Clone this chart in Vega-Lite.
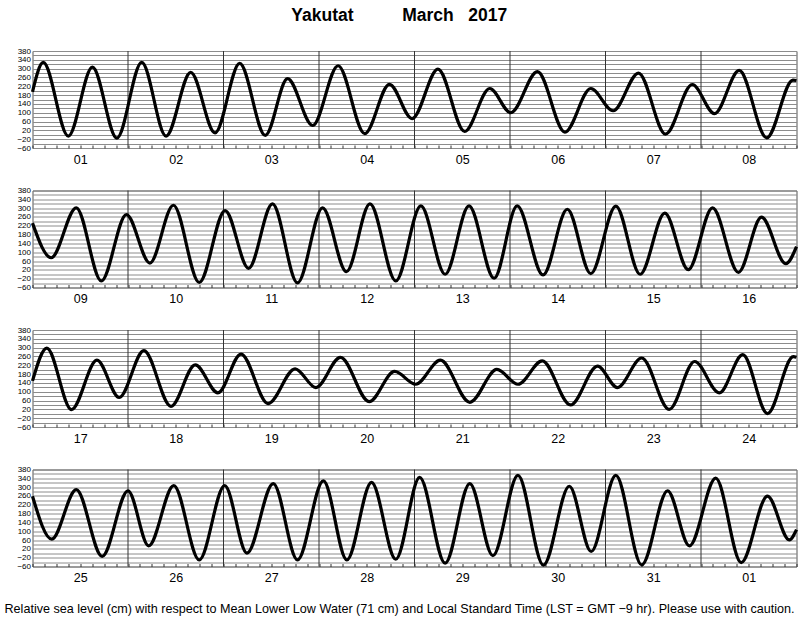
{
  "$schema": "https://vega.github.io/schema/vega-lite/v6.json",
  "background": "white",
  "padding": {"left": 2.5, "top": 7, "right": 2, "bottom": 2},
  "title": {"text": "Yakutat\u00a0\u00a0\u00a0\u00a0\u00a0\u00a0\u00a0\u00a0\u00a0\u00a0March\u00a0\u00a0\u00a02017", "font": "Liberation Sans", "fontSize": 17.5, "fontWeight": "bold", "color": "#000", "anchor": "middle", "offset": 22, "dx": -4},
  "spacing": 19.5,
  "config": {
    "view": {"stroke": "#555", "strokeWidth": 1},
    "font": "Liberation Sans",
    "axisX": {"tickSize": -3, "tickColor": "#333", "domain": false, "grid": false, "labelFontSize": 12.5, "labelPadding": 8, "labelColor": "#000", "labelFont": "Liberation Sans", "labelAngle": 0, "labelOverlap": false, "labelFlush": false, "labelBound": false},
    "axisY": {"grid": true, "gridColor": "#8c8c8c", "gridWidth": 1, "ticks": false, "domain": false, "labelFontSize": 8, "labelPadding": 2, "labelColor": "#000", "labelOverlap": false, "labelFont": "Liberation Sans", "title": null}
  },
  "datasets": {
    "days": [{"h": 24}, {"h": 48}, {"h": 72}, {"h": 96}, {"h": 120}, {"h": 144}, {"h": 168}],
    "tide": [
      {"p": 1, "h": 0, "v": 195}, {"p": 1, "h": 2.7, "v": 328}, {"p": 1, "h": 9.0, "v": -6}, {"p": 1, "h": 15.05, "v": 307}, {"p": 1, "h": 21.2, "v": -15}, {"p": 1, "h": 27.45, "v": 328}, {"p": 1, "h": 33.56, "v": -6}, {"p": 1, "h": 39.76, "v": 283}, {"p": 1, "h": 45.87, "v": 9}, {"p": 1, "h": 52.07, "v": 324}, {"p": 1, "h": 58.5, "v": -3}, {"p": 1, "h": 64.1, "v": 255}, {"p": 1, "h": 70.4, "v": 42}, {"p": 1, "h": 76.8, "v": 313}, {"p": 1, "h": 83.5, "v": 5}, {"p": 1, "h": 89.7, "v": 229}, {"p": 1, "h": 95.4, "v": 73}, {"p": 1, "h": 101.9, "v": 298}, {"p": 1, "h": 108.6, "v": 15}, {"p": 1, "h": 114.9, "v": 210}, {"p": 1, "h": 120.2, "v": 100}, {"p": 1, "h": 126.9, "v": 286}, {"p": 1, "h": 133.8, "v": 12}, {"p": 1, "h": 140.3, "v": 210}, {"p": 1, "h": 145.9, "v": 109}, {"p": 1, "h": 152.3, "v": 280}, {"p": 1, "h": 159.1, "v": 3}, {"p": 1, "h": 165.8, "v": 228}, {"p": 1, "h": 171.4, "v": 96}, {"p": 1, "h": 177.6, "v": 292}, {"p": 1, "h": 184.5, "v": -14}, {"p": 1, "h": 191.1, "v": 248}, {"p": 1, "h": 192, "v": 246},
      {"p": 2, "h": 0, "v": 232}, {"p": 2, "h": 4.7, "v": 75}, {"p": 2, "h": 11.0, "v": 301}, {"p": 2, "h": 17.3, "v": -30}, {"p": 2, "h": 23.6, "v": 271}, {"p": 2, "h": 29.5, "v": 51}, {"p": 2, "h": 35.4, "v": 313}, {"p": 2, "h": 41.9, "v": -37}, {"p": 2, "h": 48.4, "v": 289}, {"p": 2, "h": 54.3, "v": 27}, {"p": 2, "h": 60.3, "v": 319}, {"p": 2, "h": 66.6, "v": -39}, {"p": 2, "h": 72.9, "v": 301}, {"p": 2, "h": 78.9, "v": 12}, {"p": 2, "h": 84.8, "v": 319}, {"p": 2, "h": 91.3, "v": -30}, {"p": 2, "h": 97.6, "v": 310}, {"p": 2, "h": 103.7, "v": 0}, {"p": 2, "h": 109.7, "v": 310}, {"p": 2, "h": 116.0, "v": -18}, {"p": 2, "h": 121.8, "v": 310}, {"p": 2, "h": 128.3, "v": -3}, {"p": 2, "h": 134.4, "v": 295}, {"p": 2, "h": 140.3, "v": 3}, {"p": 2, "h": 146.6, "v": 309}, {"p": 2, "h": 152.7, "v": 0}, {"p": 2, "h": 158.9, "v": 277}, {"p": 2, "h": 164.8, "v": 21}, {"p": 2, "h": 170.9, "v": 301}, {"p": 2, "h": 177.4, "v": 9}, {"p": 2, "h": 183.2, "v": 259}, {"p": 2, "h": 189.3, "v": 48}, {"p": 2, "h": 192, "v": 125},
      {"p": 3, "h": 0, "v": 149}, {"p": 3, "h": 3.6, "v": 298}, {"p": 3, "h": 9.8, "v": 19}, {"p": 3, "h": 16.2, "v": 243}, {"p": 3, "h": 21.8, "v": 74}, {"p": 3, "h": 28.0, "v": 286}, {"p": 3, "h": 34.8, "v": 34}, {"p": 3, "h": 40.9, "v": 222}, {"p": 3, "h": 46.6, "v": 95}, {"p": 3, "h": 52.4, "v": 271}, {"p": 3, "h": 59.2, "v": 46}, {"p": 3, "h": 66.0, "v": 204}, {"p": 3, "h": 71.2, "v": 119}, {"p": 3, "h": 77.4, "v": 256}, {"p": 3, "h": 84.6, "v": 55}, {"p": 3, "h": 91.0, "v": 192}, {"p": 3, "h": 96.3, "v": 134}, {"p": 3, "h": 102.5, "v": 243}, {"p": 3, "h": 109.9, "v": 52}, {"p": 3, "h": 116.7, "v": 201}, {"p": 3, "h": 122.0, "v": 134}, {"p": 3, "h": 128.1, "v": 240}, {"p": 3, "h": 135.2, "v": 40}, {"p": 3, "h": 142.0, "v": 216}, {"p": 3, "h": 147.0, "v": 119}, {"p": 3, "h": 153.1, "v": 253}, {"p": 3, "h": 160.0, "v": 20}, {"p": 3, "h": 166.4, "v": 237}, {"p": 3, "h": 172.6, "v": 95}, {"p": 3, "h": 178.5, "v": 268}, {"p": 3, "h": 184.7, "v": 1}, {"p": 3, "h": 191.2, "v": 259}, {"p": 3, "h": 192, "v": 256},
      {"p": 4, "h": 0, "v": 259}, {"p": 4, "h": 4.85, "v": 64}, {"p": 4, "h": 11.0, "v": 289}, {"p": 4, "h": 17.5, "v": -14}, {"p": 4, "h": 24.0, "v": 283}, {"p": 4, "h": 29.2, "v": 34}, {"p": 4, "h": 35.5, "v": 307}, {"p": 4, "h": 41.9, "v": -30}, {"p": 4, "h": 48.3, "v": 307}, {"p": 4, "h": 53.9, "v": 1}, {"p": 4, "h": 60.5, "v": 316}, {"p": 4, "h": 66.6, "v": -30}, {"p": 4, "h": 73.1, "v": 328}, {"p": 4, "h": 79.0, "v": -30}, {"p": 4, "h": 85.2, "v": 322}, {"p": 4, "h": 91.3, "v": -27}, {"p": 4, "h": 97.3, "v": 344}, {"p": 4, "h": 103.7, "v": -45}, {"p": 4, "h": 109.9, "v": 316}, {"p": 4, "h": 115.7, "v": -11}, {"p": 4, "h": 122.0, "v": 353}, {"p": 4, "h": 128.4, "v": -54}, {"p": 4, "h": 134.9, "v": 304}, {"p": 4, "h": 140.4, "v": 8}, {"p": 4, "h": 146.6, "v": 353}, {"p": 4, "h": 153.1, "v": -53}, {"p": 4, "h": 159.6, "v": 283}, {"p": 4, "h": 165.1, "v": 34}, {"p": 4, "h": 171.7, "v": 341}, {"p": 4, "h": 178.1, "v": -42}, {"p": 4, "h": 184.7, "v": 259}, {"p": 4, "h": 190.2, "v": 61}, {"p": 4, "h": 192, "v": 107}
    ]
  },
  "vconcat": [
    {
      "width": 764, "height": 97,
      "encoding": {"x": {"field": "h", "type": "quantitative", "scale": {"domain": [0, 192], "nice": false, "zero": false}, "axis": {"title": null, "values": [0,3,6,9,12,15,18,21,24,27,30,33,36,39,42,45,48,51,54,57,60,63,66,69,72,75,78,81,84,87,90,93,96,99,102,105,108,111,114,117,120,123,126,129,132,135,138,141,144,147,150,153,156,159,162,165,168,171,174,177,180,183,186,189,192], "labelExpr": "datum.value % 24 == 12 ? ['01','02','03','04','05','06','07','08'][floor(datum.value / 24)] : ''"}}},
      "layer": [
        {"data": {"name": "days"}, "mark": {"type": "rule", "color": "#333", "strokeWidth": 1}},
        {"data": {"name": "tide"}, "transform": [{"filter": "datum.p == 1"}], "mark": {"type": "line", "interpolate": "monotone", "color": "#000", "strokeWidth": 3.2}, "encoding": {"y": {"field": "v", "type": "quantitative", "scale": {"domain": [-60, 380], "nice": false, "zero": false}, "axis": {"values": [-60,-40,-20,0,20,40,60,80,100,120,140,160,180,200,220,240,260,280,300,320,340,360,380], "labelExpr": "(datum.value + 60) % 40 == 0 ? datum.label : ''"}}}}
      ]
    },
    {
      "width": 764, "height": 97,
      "encoding": {"x": {"field": "h", "type": "quantitative", "scale": {"domain": [0, 192], "nice": false, "zero": false}, "axis": {"title": null, "values": [0,3,6,9,12,15,18,21,24,27,30,33,36,39,42,45,48,51,54,57,60,63,66,69,72,75,78,81,84,87,90,93,96,99,102,105,108,111,114,117,120,123,126,129,132,135,138,141,144,147,150,153,156,159,162,165,168,171,174,177,180,183,186,189,192], "labelExpr": "datum.value % 24 == 12 ? ['09','10','11','12','13','14','15','16'][floor(datum.value / 24)] : ''"}}},
      "layer": [
        {"data": {"name": "days"}, "mark": {"type": "rule", "color": "#333", "strokeWidth": 1}},
        {"data": {"name": "tide"}, "transform": [{"filter": "datum.p == 2"}], "mark": {"type": "line", "interpolate": "monotone", "color": "#000", "strokeWidth": 3.2}, "encoding": {"y": {"field": "v", "type": "quantitative", "scale": {"domain": [-60, 380], "nice": false, "zero": false}, "axis": {"values": [-60,-40,-20,0,20,40,60,80,100,120,140,160,180,200,220,240,260,280,300,320,340,360,380], "labelExpr": "(datum.value + 60) % 40 == 0 ? datum.label : ''"}}}}
      ]
    },
    {
      "width": 764, "height": 97,
      "encoding": {"x": {"field": "h", "type": "quantitative", "scale": {"domain": [0, 192], "nice": false, "zero": false}, "axis": {"title": null, "values": [0,3,6,9,12,15,18,21,24,27,30,33,36,39,42,45,48,51,54,57,60,63,66,69,72,75,78,81,84,87,90,93,96,99,102,105,108,111,114,117,120,123,126,129,132,135,138,141,144,147,150,153,156,159,162,165,168,171,174,177,180,183,186,189,192], "labelExpr": "datum.value % 24 == 12 ? ['17','18','19','20','21','22','23','24'][floor(datum.value / 24)] : ''"}}},
      "layer": [
        {"data": {"name": "days"}, "mark": {"type": "rule", "color": "#333", "strokeWidth": 1}},
        {"data": {"name": "tide"}, "transform": [{"filter": "datum.p == 3"}], "mark": {"type": "line", "interpolate": "monotone", "color": "#000", "strokeWidth": 3.2}, "encoding": {"y": {"field": "v", "type": "quantitative", "scale": {"domain": [-60, 380], "nice": false, "zero": false}, "axis": {"values": [-60,-40,-20,0,20,40,60,80,100,120,140,160,180,200,220,240,260,280,300,320,340,360,380], "labelExpr": "(datum.value + 60) % 40 == 0 ? datum.label : ''"}}}}
      ]
    },
    {
      "width": 764, "height": 97,
      "encoding": {"x": {"field": "h", "type": "quantitative", "scale": {"domain": [0, 192], "nice": false, "zero": false}, "axis": {"title": "Relative sea level (cm) with respect to Mean Lower Low Water (71 cm) and Local Standard Time (LST = GMT \u22129 hr). Please use with caution.", "titleFont": "Liberation Sans", "titleFontSize": 12.6, "titleFontWeight": "normal", "titleColor": "#000", "titleX": 366.5, "titleY": 46, "titleBaseline": "alphabetic", "titleAnchor": "middle", "values": [0,3,6,9,12,15,18,21,24,27,30,33,36,39,42,45,48,51,54,57,60,63,66,69,72,75,78,81,84,87,90,93,96,99,102,105,108,111,114,117,120,123,126,129,132,135,138,141,144,147,150,153,156,159,162,165,168,171,174,177,180,183,186,189,192], "labelExpr": "datum.value % 24 == 12 ? ['25','26','27','28','29','30','31','01'][floor(datum.value / 24)] : ''"}}},
      "layer": [
        {"data": {"name": "days"}, "mark": {"type": "rule", "color": "#333", "strokeWidth": 1}},
        {"data": {"name": "tide"}, "transform": [{"filter": "datum.p == 4"}], "mark": {"type": "line", "interpolate": "monotone", "color": "#000", "strokeWidth": 3.2}, "encoding": {"y": {"field": "v", "type": "quantitative", "scale": {"domain": [-60, 380], "nice": false, "zero": false}, "axis": {"values": [-60,-40,-20,0,20,40,60,80,100,120,140,160,180,200,220,240,260,280,300,320,340,360,380], "labelExpr": "(datum.value + 60) % 40 == 0 ? datum.label : ''"}}}}
      ]
    }
  ]
}
